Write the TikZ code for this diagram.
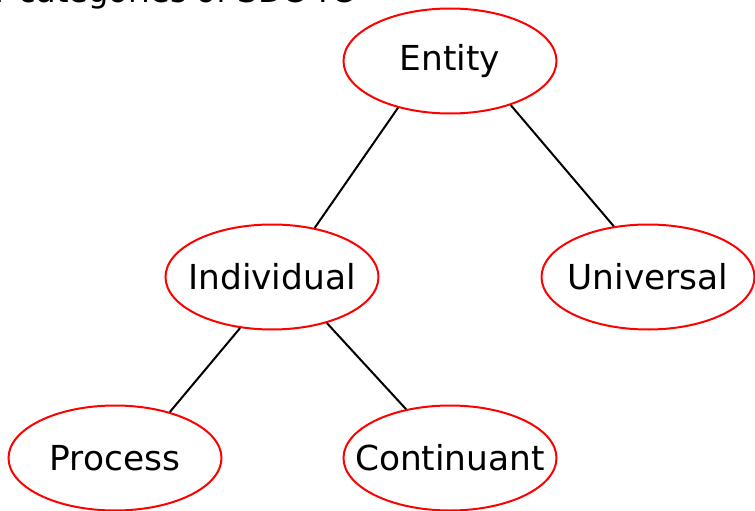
\documentclass[tikz,border=0pt]{standalone}
\usepackage{fontspec}
\setmainfont{DejaVu Sans}
\usetikzlibrary{shapes.geometric}
\begin{document}
\begin{tikzpicture}[x=1pt,y=-1pt,
  cat/.style={draw=red, line width=2pt, ellipse, minimum width=213pt, minimum height=105pt, inner sep=0pt,
    label={[inner sep=0pt, font=\fontsize{34.4}{40}\selectfont]center:#1}},
  link/.style={draw=black, line width=2pt},
  ttl/.style={anchor=base east, inner sep=0pt, font=\fontsize{32}{38}\selectfont}]
\useasboundingbox (0,0) rectangle (755,511);
\fill[white] (0,0) rectangle (755,511);
\node[ttl] (title) at (354,3) {Upper categories of SDC-TC};
\node[cat=Entity] (entity) at (450,61) {};
\node[cat=Individual] (individual) at (272,277) {};
\node[cat=Universal] (universal) at (648,277) {};
\node[cat=Process] (process) at (115,458) {};
\node[cat=Continuant] (continuant) at (450,458) {};
\draw[link] (entity.222.7) -- (individual.49.9);
\draw[link] (entity.324) -- (universal.124);
\draw[link] (individual.238) -- (process.40.5);
\draw[link] (individual.320.6) -- (continuant.132.6);
\end{tikzpicture}
\end{document}
